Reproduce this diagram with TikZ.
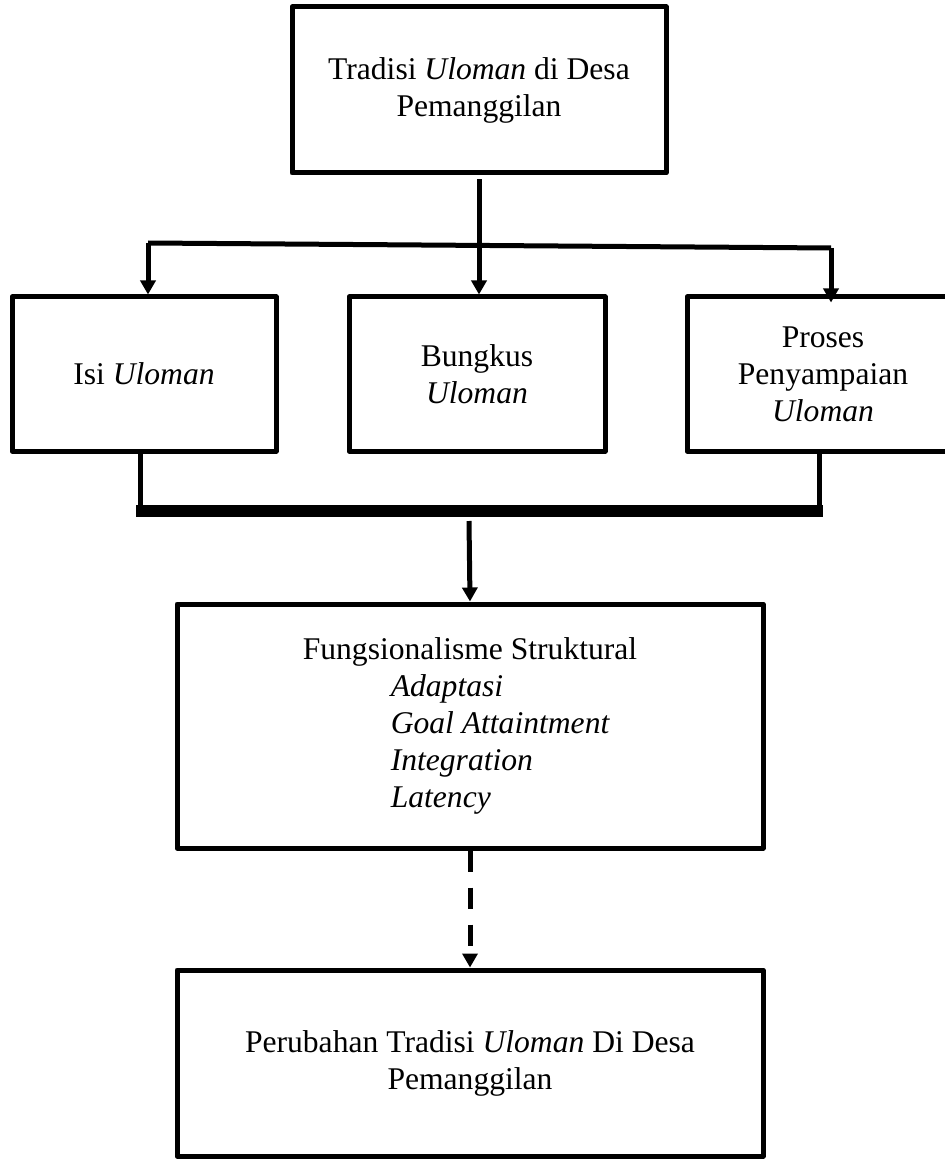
\documentclass[tikz,border=0pt]{standalone}
\usepackage{fontspec}
\setmainfont{Liberation Serif}
\usetikzlibrary{arrows.meta}

\begin{document}
\begin{tikzpicture}[
    x=0.5pt, y=-0.5pt,
    font=\fontsize{15.8}{18.5}\selectfont,
    box/.style={draw, line width=2.5pt, line join=round, inner sep=0pt, align=center},
    conn/.style={draw, line width=2.5pt},
    arr/.style={conn, -{Triangle[width=7.5pt, length=7pt]}}
]

\useasboundingbox (0,0) rectangle (945,1160);
\clip (0,0) rectangle (945,1160);

\node[box, minimum width=187pt, minimum height=83pt] (tradisi) at (479,90)
    {Tradisi \textit{Uloman} di Desa\\Pemanggilan};

\node[box, minimum width=132pt, minimum height=77pt] (isi) at (144,374)
    {Isi \textit{Uloman}};

\node[box, minimum width=128pt, minimum height=77pt] (bungkus) at (477,374)
    {Bungkus\\\textit{Uloman}};

\node[box, minimum width=136pt, minimum height=77pt] (proses) at (823,374)
    {Proses\\Penyampaian\\\textit{Uloman}};

\node[box, minimum width=293pt, minimum height=122pt, align=left] (fungsi) at (470,726)
    {Fungsionalisme Struktural\\
     \hspace*{44pt}\textit{Adaptasi}\\
     \hspace*{44pt}\textit{Goal Attaintment}\\
     \hspace*{44pt}\textit{Integration}\\
     \hspace*{44pt}\textit{Latency}};

\node[box, minimum width=293pt, minimum height=93pt] (hasil) at (470,1063)
    {Perubahan Tradisi \textit{Uloman} Di Desa\\Pemanggilan};

\coordinate (splitL) at (148,243);
\coordinate (splitR) at (831,248);
\coordinate (joinL) at (140,511);
\coordinate (joinR) at (819,511);
\coordinate (joinM) at (469,521);

\draw[arr, shorten <=2pt] (tradisi.south) -- (tradisi.south |- bungkus.north);
\draw[conn] (splitL) -- (splitR);
\draw[arr] (splitL) -- (splitL |- isi.north);
\draw[arr, shorten >=-4pt] (splitR) -- (splitR |- proses.north);

\draw[conn] (joinL |- isi.south) -- (joinL);
\draw[conn] (joinR |- proses.south) -- (joinR);
\draw[line width=6pt] ([xshift=-2pt]joinL) -- ([xshift=2pt]joinR);
\draw[arr] (joinM) -- (fungsi.north);

\draw[arr, dash pattern=on 10.5pt off 8pt] (fungsi.south) -- (hasil.north);

\end{tikzpicture}
\end{document}
